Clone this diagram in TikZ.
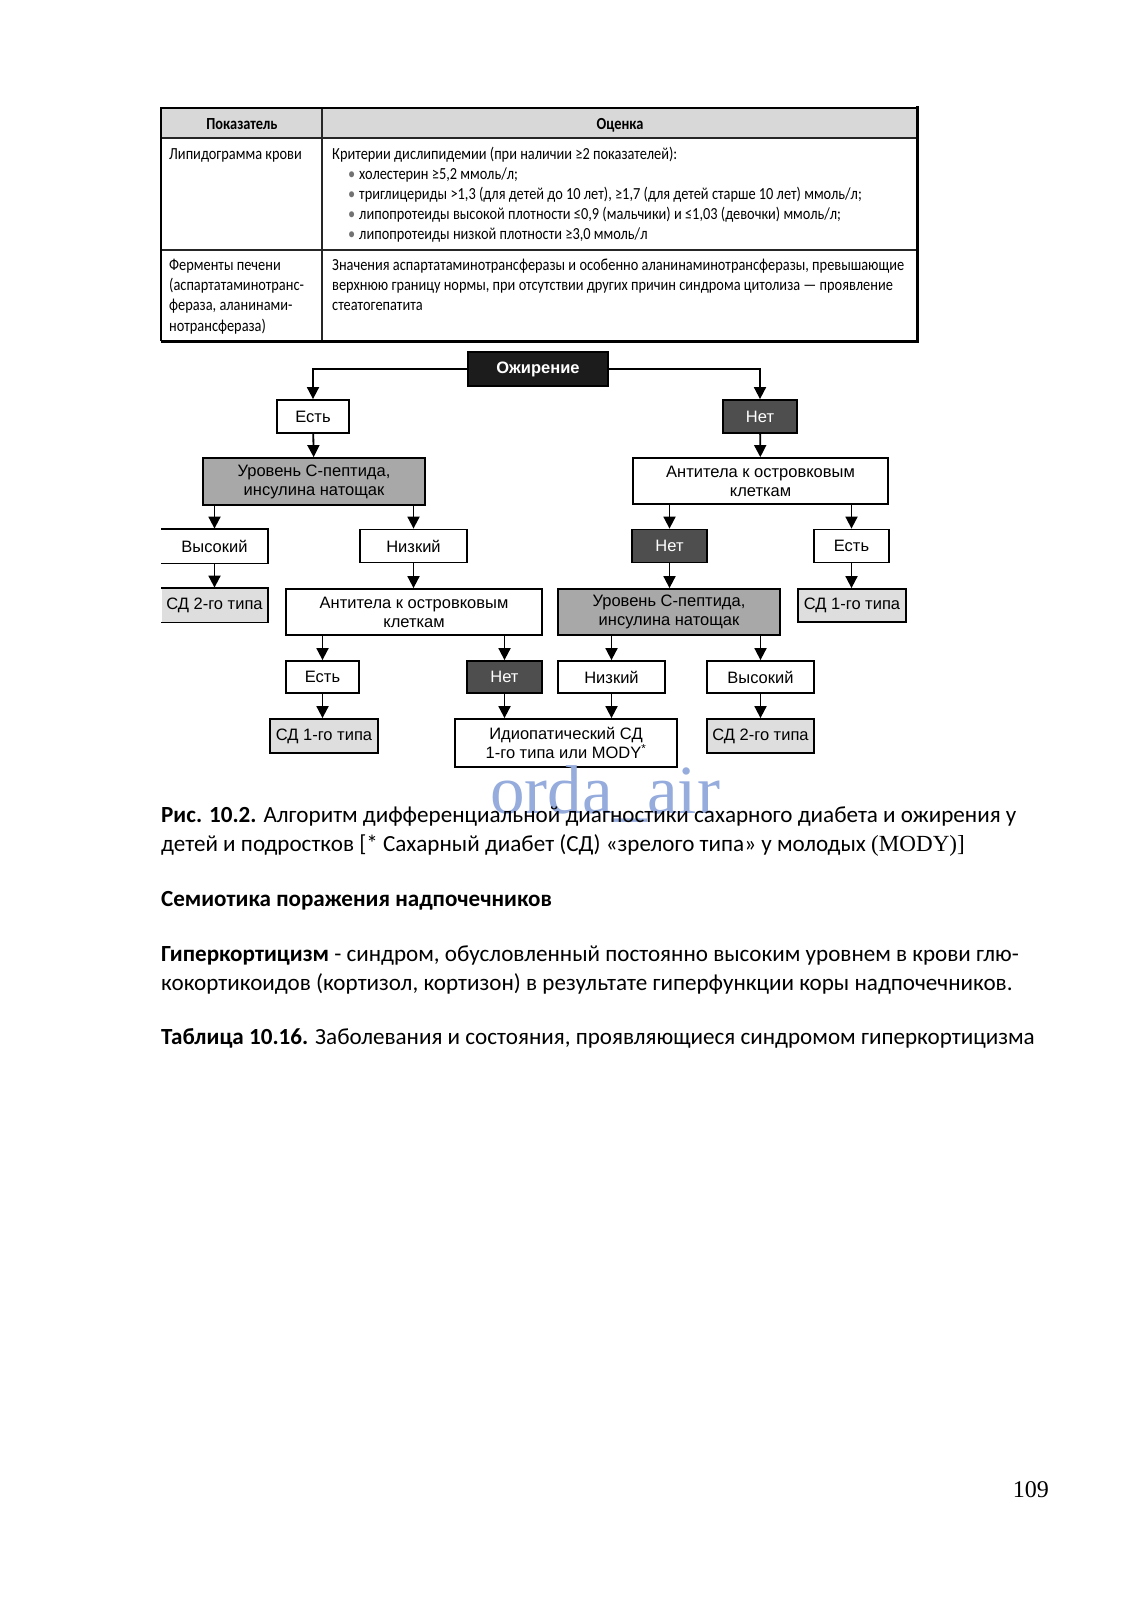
\documentclass[tikz,border=0pt]{standalone}
\usepackage{fontspec}
\setmainfont{Liberation Sans}
\newfontfamily\tabfont[FakeStretch=0.85]{Carlito}
\newfontfamily\capfont{Carlito}
\newfontfamily\serfont{Liberation Serif}
\usetikzlibrary{arrows.meta}

\definecolor{headgray}{RGB}{216,216,216}
\definecolor{midgray}{RGB}{168,168,168}
\definecolor{palegray}{RGB}{222,222,222}
\definecolor{darkfill}{RGB}{78,78,78}
\definecolor{blackfill}{RGB}{28,28,28}
\definecolor{wmblue}{RGB}{150,172,220}

\begin{document}
\begin{tikzpicture}[x=1pt, y=-1pt, >={Triangle[length=12pt,width=12pt]},
  box/.style={draw, line width=1.8pt, fill=white, inner sep=0pt, align=center,
    font=\fontsize{16.5}{19}\selectfont},
  darkbox/.style={box, fill=darkfill, text=white},
  topbox/.style={box, fill=blackfill, text=white, font=\fontsize{16.5}{19}\selectfont\bfseries},
  graybox/.style={box, fill=midgray},
  palebox/.style={box, fill=palegray},
  wh/.style 2 args={minimum width=#1pt, minimum height=#2pt},
  tabtxt/.style={anchor=base west, inner sep=0pt, font=\tabfont\fontsize{16.9}{20}\selectfont},
  tabhead/.style={anchor=base, inner sep=0pt, font=\tabfont\fontsize{16.9}{20}\selectfont\bfseries},
  captxt/.style={anchor=base west, inner sep=0pt, font=\capfont\fontsize{23.1}{29}\selectfont},
  link/.style={->, line width=1.8pt}]
\useasboundingbox[fill=white] (0,0) rectangle (1132,1600);

% Table
\fill[headgray] (161,108) rectangle (917,138);
\draw[line width=1.3pt, black!85] (161,138) -- (917,138);
\draw[line width=1.3pt, black!85] (161,250) -- (917,250);
\draw[line width=1.3pt, black!85] (322,108) -- (322,341);
\draw[line width=1.6pt] (917,108) -- (161,108) -- (161,341);
\draw[line width=3pt] (917,106.5) -- (917,341) -- (161,341);

\node[tabhead] (hdrA) at (242,129) {Показатель};
\node[tabhead] (hdrB) at (620,129) {Оценка};

\node[tabtxt] (lipA) at (169,159) {Липидограмма крови};
\node[tabtxt] (lipB) at (332,159) {Критерии дислипидемии (при наличии ≥2 показателей):};
\foreach \y in {179.2,199.4,219.6,239.8}
  \node[tabtxt, text=black!55] at (348,\y) {•};
\node[tabtxt] (lip1) at (359,179.2) {холестерин ≥5,2 ммоль/л;};
\node[tabtxt] (lip2) at (359,199.4) {триглицериды >1,3 (для детей до 10 лет), ≥1,7 (для детей старше 10 лет) ммоль/л;};
\node[tabtxt] (lip3) at (359,219.6) {липопротеиды высокой плотности ≤0,9 (мальчики) и ≤1,03 (девочки) ммоль/л;};
\node[tabtxt] (lip4) at (359,239.8) {липопротеиды низкой плотности ≥3,0 ммоль/л};

\node[tabtxt] (enzA1) at (169,270) {Ферменты печени};
\node[tabtxt] (enzA2) at (169,290.4) {(аспартатаминотранс-};
\node[tabtxt] (enzA3) at (169,310.8) {фераза, аланинами-};
\node[tabtxt] (enzA4) at (169,331.2) {нотрансфераза)};
\node[tabtxt] (enzB1) at (332,270) {Значения аспартатаминотрансферазы и особенно аланинаминотрансферазы, превышающие};
\node[tabtxt] (enzB2) at (332,290.4) {верхнюю границу нормы, при отсутствии других причин синдрома цитолиза — проявление};
\node[tabtxt] (enzB3) at (332,310.8) {стеатогепатита};

% Flowchart boxes
\node[topbox, wh={140}{34}] (obes) at (538,369) {Ожирение};
\node[box, wh={72}{33}] (yesL) at (313,416.5) {Есть};
\node[darkbox, wh={74}{33}] (noR) at (760,416.5) {Нет};
\node[graybox, wh={222}{47}] (cpepL) at (314,481.5) {Уровень С-пептида,\\инсулина натощак};
\node[box, wh={255}{46}] (abR) at (760.5,481) {Антитела к островковым\\клеткам};

\node[box, draw=none, wh={105}{33}] (highL) at (214.5,546) {Высокий};
\node[box, wh={107}{33}] (lowL) at (413.5,546) {Низкий};
\node[darkbox, wh={75}{33}] (noR2) at (669.5,546) {Нет};
\node[box, wh={75}{33}] (yesR2) at (851.5,546) {Есть};

\node[palebox, draw=none, wh={105}{33}] (sd2L) at (214.5,605) {СД 2-го типа};
\node[box, wh={256}{46}] (abL) at (414,612) {Антитела к островковым\\клеткам};
\node[graybox, wh={222}{46}] (cpepR) at (669,612) {Уровень С-пептида,\\инсулина натощак};
\node[palebox, wh={108}{33}] (sd1R) at (852,605.5) {СД 1-го типа};

\node[box, wh={73}{32}] (yesL3) at (322.5,677) {Есть};
\node[darkbox, wh={75}{32}] (noL3) at (504.5,677) {Нет};
\node[box, wh={107}{32}] (lowR3) at (611.5,677) {Низкий};
\node[box, wh={107}{32}] (highR3) at (760.5,677) {Высокий};

\node[palebox, wh={108}{34}] (sd1L) at (324,736) {СД 1-го типа};
\node[box, wh={222}{48}] (idio) at (566,743) {Идиопатический СД\\1-го типа или MODY\textsuperscript{*}};
\node[palebox, wh={107}{34}] (sd2R) at (760.5,736) {СД 2-го типа};

% boxes cut at the left margin
\draw[line width=1.8pt] (highL.north west) -- (highL.north east) -- (highL.south east) -- (highL.south west);
\draw[line width=1.8pt] (sd2L.north west) -- (sd2L.north east) -- (sd2L.south east) -- (sd2L.south west);

% Arrows
\draw[link] (obes.west) -| (yesL.north);
\draw[link] (obes.east) -| (noR.north);
\draw[link] (yesL) -- (cpepL);
\draw[link] (noR) -- (abR);
\draw[link] (highL.north |- cpepL.south) -- (highL.north);
\draw[link] (lowL.north |- cpepL.south) -- (lowL.north);
\draw[link] (noR2.north |- abR.south) -- (noR2.north);
\draw[link] (yesR2.north |- abR.south) -- (yesR2.north);
\draw[link] (highL) -- (sd2L);
\draw[link] (lowL.south) -- (lowL.south |- abL.north);
\draw[link] (noR2.south) -- (noR2.south |- cpepR.north);
\draw[link] (yesR2.south) -- (yesR2.south |- sd1R.north);
\draw[link] (yesL3.north |- abL.south) -- (yesL3.north);
\draw[link] (noL3.north |- abL.south) -- (noL3.north);
\draw[link] (lowR3.north |- cpepR.south) -- (lowR3.north);
\draw[link] (highR3.north |- cpepR.south) -- (highR3.north);
\draw[link] (yesL3.south) -- (yesL3.south |- sd1L.north);
\draw[link] (noL3.south) -- (noL3.south |- idio.north);
\draw[link] (lowR3.south) -- (lowR3.south |- idio.north);
\draw[link] (highR3) -- (sd2R);

% Watermark
\node[anchor=base west, inner sep=0pt, text=wmblue, font=\serfont\fontsize{69}{69}\selectfont] (wm) at (490,813) {orda\_air};

% Text below the figure
\node[captxt] (cap1) at (161,822) {\textbf{Рис. 10.2.} Алгоритм дифференциальной диагностики сахарного диабета и ожирения у};
\node[captxt] (cap2) at (161,851) {детей и подростков [* Сахарный диабет (СД) «зрелого типа» у молодых {\serfont (MODY)]}};
\node[captxt] (sect) at (161,906) {\textbf{Семиотика поражения надпочечников}};
\node[captxt] (hyp1) at (161,961) {\textbf{Гиперкортицизм} - синдром, обусловленный постоянно высоким уровнем в крови глю-};
\node[captxt] (hyp2) at (161,990) {кокортикоидов (кортизол, кортизон) в результате гиперфункции коры надпочечников.};
\node[captxt] (tab1) at (161,1044) {\textbf{Таблица 10.16.} Заболевания и состояния, проявляющиеся синдромом гиперкортицизма};
\node[anchor=base east, inner sep=0pt, font=\serfont\fontsize{24}{24}\selectfont] (pageno) at (1049,1497) {109};
\end{tikzpicture}
\end{document}
